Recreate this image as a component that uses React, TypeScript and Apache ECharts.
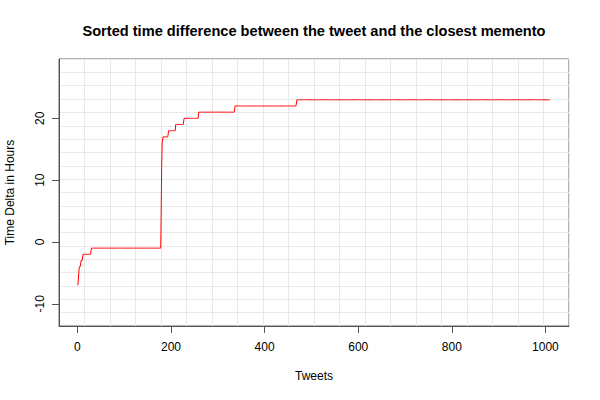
import React, { useEffect, useRef } from "react";
import * as echarts from "echarts";

// Sorted time deltas (hours), run-length encoded: value and how many tweets have it
const runValues = [-7, -6, -5, -4, -3, -2, -1, 5, 12, 16, 17, 18, 19, 20, 21, 22, 23];
const runCounts = [1, 1, 1, 4, 4, 18, 149, 1, 1, 2, 12, 15, 18, 31, 78, 132, 542];
const xTicks = [0, 200, 400, 600, 800, 1000];
const yTicks = [-10, 0, 10, 20];

const titleText = "Sorted time difference between the tweet and the closest memento";
const xName = "Tweets";
const yName = "Time Delta in Hours";

const FONT = "'Liberation Sans', Arial, Helvetica, sans-serif";

export default function App() {
  const ref = useRef<HTMLDivElement>(null);
  useEffect(() => {
    if (!ref.current) return;
    document.body.style.margin = "0";
    const chart = echarts.init(ref.current, null, { renderer: "svg" });

    const data: number[][] = [];
    let n = 1;
    runValues.forEach((v, i) => {
      for (let k = 0; k < runCounts[i]; k++) {
        data.push([n, v]);
        n++;
      }
    });
    const total = n - 1;
    const xPad = (total - 1) * 0.04;
    const xMin = 1 - xPad;
    const xMax = total + xPad;
    const yMin = -13.6;
    const yMax = 29.6;

    const gridLeft = 59;
    const gridRight = 31;

    chart.setOption({
      animation: false,
      backgroundColor: "#ffffff",
      textStyle: { fontFamily: FONT },
      grid: {
        left: gridLeft,
        right: gridRight,
        top: 59,
        bottom: 74,
        outerBoundsMode: "none",
        containLabel: false,
        show: true,
        borderColor: "#666666",
        borderWidth: 1,
        backgroundColor: "transparent",
      },
      graphic: [
        {
          type: "text",
          x: gridLeft + (600 - gridLeft - gridRight) / 2,
          y: 30.5,
          style: {
            text: titleText,
            font: `bold 14.6px ${FONT}`,
            fill: "#000",
            textAlign: "center",
            textVerticalAlign: "middle",
          },
        },
      ],
      xAxis: [
        {
          type: "value",
          min: xMin,
          max: xMax,
          name: xName,
          nameLocation: "middle",
          nameGap: 44,
          nameTextStyle: { fontSize: 12, color: "#000", fontFamily: FONT },
          axisLine: { show: true, onZero: false, lineStyle: { color: "#555", width: 1 } },
          axisTick: {
            show: true,
            customValues: xTicks,
            length: 7,
            lineStyle: { color: "#555", width: 1 },
          },
          axisLabel: {
            show: true,
            customValues: xTicks,
            formatter: (v: number) => String(v),
            margin: 15,
            fontSize: 12,
            color: "#000",
            fontFamily: FONT,
          },
          splitLine: { show: false },
        },
        {
          type: "value",
          min: 0,
          max: 20,
          interval: 1,
          position: "top",
          axisLine: { show: false, onZero: false },
          axisTick: { show: false },
          axisLabel: { show: false },
          splitLine: { show: true, lineStyle: { color: "#e8e8e8", width: 1 } },
        },
      ],
      yAxis: [
        {
          type: "value",
          min: yMin,
          max: yMax,
          name: yName,
          nameLocation: "middle",
          nameGap: 43,
          nameTextStyle: { fontSize: 12, color: "#000", fontFamily: FONT },
          axisLine: { show: true, onZero: false, lineStyle: { color: "#555", width: 1 } },
          axisTick: {
            show: true,
            customValues: yTicks,
            length: 7,
            lineStyle: { color: "#555", width: 1 },
          },
          axisLabel: {
            show: true,
            customValues: yTicks,
            formatter: (v: number) => String(v),
            rotate: 90,
            margin: 13,
            fontSize: 12,
            color: "#000",
            fontFamily: FONT,
          },
          splitLine: { show: false },
        },
        {
          type: "value",
          min: 0,
          max: 20,
          interval: 1,
          position: "right",
          axisLine: { show: false, onZero: false },
          axisTick: { show: false },
          axisLabel: { show: false },
          splitLine: { show: true, lineStyle: { color: "#e8e8e8", width: 1 } },
        },
      ],
      series: [
        {
          type: "line",
          xAxisIndex: 0,
          yAxisIndex: 0,
          data,
          showSymbol: false,
          symbol: "none",
          lineStyle: { color: "#ff0000", width: 1 },
          z: 5,
        },
      ],
    });
    return () => chart.dispose();
  }, []);
  return <div ref={ref} style={{ width: 600, height: 400 }} />;
}
